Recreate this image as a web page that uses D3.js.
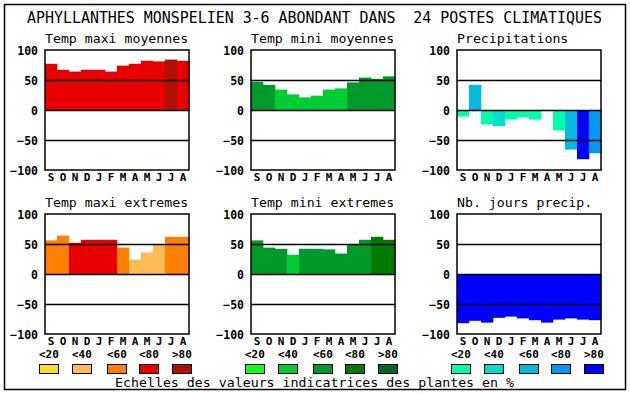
<!DOCTYPE html>
<html>
<head>
<meta charset="utf-8">
<script src="https://cdn.jsdelivr.net/npm/d3@7"></script>
<style>
  html, body { margin: 0; padding: 0; background: #fff; }
  svg { display: block; }
  text { font-family: 'DejaVu Sans Mono', monospace; fill: #000; }
</style>
</head>
<body>
<div id="chart"></div>
<script>
const W = 630, H = 394;

const months = ['S', 'O', 'N', 'D', 'J', 'F', 'M', 'A', 'M', 'J', 'J', 'A'];
const yTicks = [100, 50, 0, -50, -100];
const gridValues = [50, 0, -50];
const legendLabels = ['<20', '<40', '<60', '<80', '>80'];

// colour scales (classes 0..4)
const redScale = ['#f8e020', '#ffbb55', '#ff8000', '#e80000', '#b01000'];
const greenScale = ['#11ff11', '#00cc33', '#009a2a', '#007a00', '#006622'];
const blueScale = ['#00ffaa', '#00ddcc', '#00bbdd', '#0099ee', '#0000ff'];

const titles = ['Temp maxi moyennes', 'Temp mini moyennes', 'Precipitations',
                'Temp maxi extremes', 'Temp mini extremes', 'Nb. jours precip.'];

// values
const tmaxMoy = [77, 67, 64, 67, 67, 64, 74, 77, 82, 81, 84, 82];
const tminMoy = [47, 42, 34, 26, 21, 24, 34, 36, 46, 54, 52, 56];
const precip = [-11, 42, -24, -27, -16, -12, -16, 0, -34, -66, -82, -72];
const tmaxExt = [56, 64, 52, 57, 57, 57, 44, 24, 36, 49, 62, 62];
const tminExt = [56, 44, 42, 32, 42, 42, 41, 34, 49, 57, 62, 57];
const joursPrecip = [-82, -78, -81, -73, -71, -74, -77, -81, -76, -74, -76, -77];

// colour class for each bar
const tmaxMoyCls = [3, 3, 3, 3, 3, 3, 3, 3, 3, 3, 4, 3];
const tminMoyCls = [2, 2, 1, 1, 1, 1, 1, 1, 2, 2, 2, 2];
const precipCls = [0, 2, 0, 1, 0, 0, 0, 0, 0, 2, 4, 3];
const tmaxExtCls = [2, 2, 3, 3, 3, 3, 2, 1, 1, 1, 2, 2];
const tminExtCls = [2, 2, 2, 1, 2, 2, 2, 2, 2, 2, 3, 3];
const joursCls = [4, 4, 4, 4, 4, 4, 4, 4, 4, 4, 4, 4];

const panels = [
  {values: tmaxMoy, cls: tmaxMoyCls, scale: redScale},
  {values: tminMoy, cls: tminMoyCls, scale: greenScale},
  {values: precip, cls: precipCls, scale: blueScale},
  {values: tmaxExt, cls: tmaxExtCls, scale: redScale},
  {values: tminExt, cls: tminExtCls, scale: greenScale},
  {values: joursPrecip, cls: joursCls, scale: blueScale}
];

const colX = [45, 251, 457];
const rowY = [50, 214];
const pw = 144, ph = 120;

const svg = d3.select('#chart').append('svg')
    .attr('width', W).attr('height', H);

// outer frame
svg.append('rect')
    .attr('x', 4.5).attr('y', 4.5)
    .attr('width', 621).attr('height', 385)
    .attr('fill', 'none').attr('stroke', '#000').attr('stroke-width', 1.5);

svg.append('text')
    .attr('x', 27).attr('y', 23)
    .attr('textLength', 575).attr('lengthAdjust', 'spacingAndGlyphs')
    .style('font-size', '15px')
    .style('white-space', 'pre')
    .text('APHYLLANTHES MONSPELIEN 3-6 ABONDANT DANS  24 POSTES CLIMATIQUES');

panels.forEach((p, i) => {
  const x0 = colX[i % 3], y0 = rowY[Math.floor(i / 3)];
  const g = svg.append('g').attr('transform', `translate(${x0},${y0})`);

  const x = d3.scaleBand().domain(d3.range(12)).range([0, pw]).padding(0);
  const y = d3.scaleLinear().domain([-100, 100]).range([ph, 0]);

  g.append('text')
      .attr('x', 0).attr('y', -7)
      .attr('textLength', titles[i].length * 7.95).attr('lengthAdjust', 'spacingAndGlyphs')
      .style('font-size', '13px')
      .text(titles[i]);

  g.selectAll('rect.bar')
    .data(p.values)
    .enter().append('rect')
      .attr('class', 'bar')
      .attr('x', (d, j) => x(j))
      .attr('width', x.bandwidth() + 0.3)
      .attr('y', d => y(Math.max(0, d)))
      .attr('height', d => Math.abs(y(d) - y(0)))
      .attr('fill', (d, j) => p.scale[p.cls[j]]);

  g.selectAll('line.grid')
    .data(gridValues)
    .enter().append('line')
      .attr('class', 'grid')
      .attr('x1', 0).attr('x2', pw)
      .attr('y1', d => Math.round(y(d)) + 0.5)
      .attr('y2', d => Math.round(y(d)) + 0.5)
      .attr('stroke', '#000').attr('stroke-width', 1.5);

  g.append('rect')
      .attr('x', 0).attr('y', 0)
      .attr('width', pw).attr('height', ph)
      .attr('fill', 'none').attr('stroke', '#000').attr('stroke-width', 1.5);

  const yAxis = g.append('g')
      .attr('transform', 'translate(-7,0)')
      .call(d3.axisLeft(y).tickValues(yTicks).tickSize(0).tickPadding(0));
  yAxis.select('.domain').remove();
  yAxis.selectAll('text')
      .attr('dy', '0.36em')
      .style('font-family', "'DejaVu Sans Mono', monospace")
      .style('font-size', '11.5px')
      .style('font-weight', 'bold')
      .attr('fill', '#000');

  g.selectAll('text.month')
    .data(months)
    .enter().append('text')
      .attr('class', 'month')
      .attr('x', (d, j) => x(j) + x.bandwidth() / 2)
      .attr('y', ph + 11)
      .attr('text-anchor', 'middle')
      .style('font-size', '11px')
      .style('font-weight', 'bold')
      .text(d => d);
});

// legends
const legendOffsets = [0, 33, 68, 100, 133];
[redScale, greenScale, blueScale].forEach((sc, k) => {
  const lx = colX[k] - 6;
  const lg = svg.append('g').attr('transform', `translate(${lx},0)`);
  lg.selectAll('text.leg')
    .data(legendLabels)
    .enter().append('text')
      .attr('class', 'leg')
      .attr('x', (d, j) => legendOffsets[j])
      .attr('y', 358)
      .style('font-size', '11px')
      .style('font-weight', 'bold')
      .text(d => d);
  lg.selectAll('rect.leg')
    .data(sc)
    .enter().append('rect')
      .attr('class', 'leg')
      .attr('x', (d, j) => legendOffsets[j] + 0.5)
      .attr('y', 364.5)
      .attr('width', 19).attr('height', 9)
      .attr('fill', d => d)
      .attr('stroke', '#000').attr('stroke-width', 1);
});

svg.append('text')
    .attr('x', 115).attr('y', 387)
    .attr('textLength', 399).attr('lengthAdjust', 'spacingAndGlyphs')
    .style('font-size', '13px')
    .text('Echelles des valeurs indicatrices des plantes en %');
</script>
</body>
</html>
